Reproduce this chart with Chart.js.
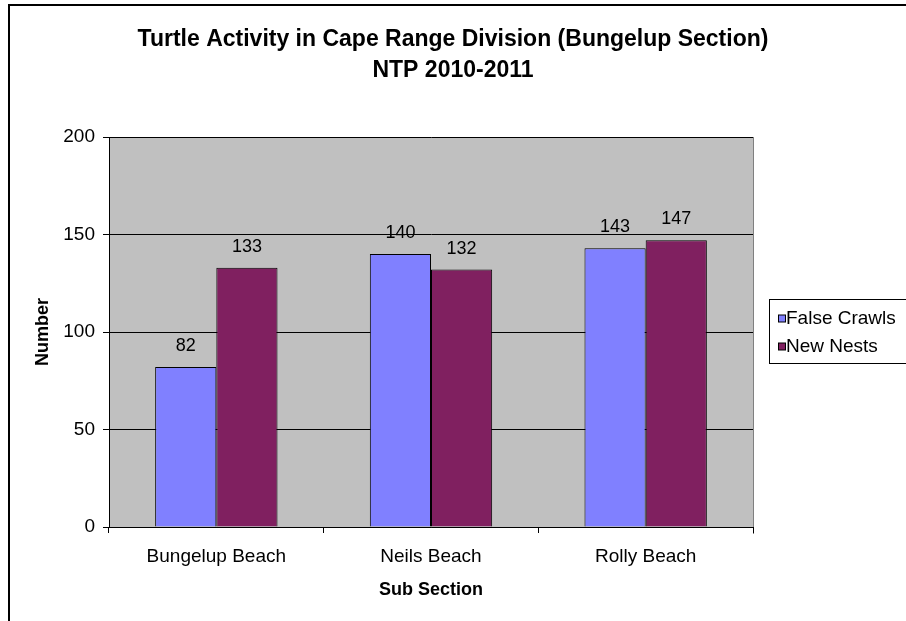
<!DOCTYPE html>
<html>
<head>
<meta charset="utf-8">
<script src="https://cdn.jsdelivr.net/npm/chart.js@4.4.1/dist/chart.umd.min.js"></script>
<style>
    html, body { margin: 0; padding: 0; background: #fff; }
    #wrap { width: 906px; height: 621px; position: relative; }
</style>
</head>
<body>
<div id="wrap"><canvas id="turtleChart" width="906" height="621"></canvas></div>
<script>
// 数据
const subSections = ['Bungelup Beach', 'Neils Beach', 'Rolly Beach'];
const falseCrawls = [82, 140, 143];
const newNests = [133, 132, 147];
const seriesNames = ['False Crawls', 'New Nests'];
const titleLines = ['Turtle Activity in Cape Range Division (Bungelup Section)', 'NTP 2010-2011'];
const yTicks = [0, 50, 100, 150, 200];

const FONT = 'Arial, "Liberation Sans", sans-serif';

// 外框、标题、图例、数值标签
const decorPlugin = {
    id: 'decor',
    beforeDraw(chart) {
        const { ctx, chartArea } = chart;
        ctx.save();
        ctx.fillStyle = '#ffffff';
        ctx.fillRect(0, 0, chart.width, chart.height);
        // 绘图区背景
        ctx.fillStyle = '#c0c0c0';
        ctx.fillRect(chartArea.left, chartArea.top, chartArea.right - chartArea.left, chartArea.bottom - chartArea.top);
        ctx.strokeStyle = '#808080';
        ctx.lineWidth = 1;
        ctx.beginPath();
        ctx.moveTo(chartArea.right + 0.5, chartArea.top);
        ctx.lineTo(chartArea.right + 0.5, chartArea.bottom + 7);
        ctx.stroke();
        ctx.restore();
    },
    afterDatasetsDraw(chart) {
        const { ctx } = chart;
        ctx.save();
        ctx.font = '18px ' + FONT;
        ctx.fillStyle = '#000';
        ctx.textAlign = 'center';
        ctx.textBaseline = 'middle';
        chart.data.datasets.forEach((ds, i) => {
            chart.getDatasetMeta(i).data.forEach((bar, j) => {
                ctx.fillText(String(ds.data[j]), bar.x, bar.y - 21);
            });
        });
        ctx.restore();
    },
    afterDraw(chart) {
        const { ctx } = chart;
        ctx.save();
        // 外框 (右侧和底部超出画布)
        ctx.strokeStyle = '#000';
        ctx.lineWidth = 2;
        ctx.strokeRect(9, 5, 1000, 1000);

        // 标题
        ctx.fillStyle = '#000';
        ctx.font = 'bold 23px ' + FONT;
        ctx.textAlign = 'center';
        ctx.textBaseline = 'middle';
        ctx.fillText(titleLines[0], 453, 40);
        ctx.fillText(titleLines[1], 453, 71);

        // 图例
        ctx.fillStyle = '#fff';
        ctx.fillRect(769, 299, 200, 64);
        ctx.strokeStyle = '#000';
        ctx.lineWidth = 1;
        ctx.strokeRect(769.5, 299.5, 200, 64);
        ctx.font = '19px ' + FONT;
        ctx.textAlign = 'left';
        chart.data.datasets.forEach((ds, i) => {
            const y = 318 + i * 28;
            ctx.fillStyle = ds.backgroundColor;
            ctx.fillRect(778, y - 3, 7, 7);
            ctx.strokeRect(778.5, y - 3, 7, 7);
            ctx.fillStyle = '#000';
            ctx.fillText(ds.label, 786, y + 1);
        });
        ctx.restore();
    }
};

const ctx = document.getElementById('turtleChart').getContext('2d');
const turtleChart = new Chart(ctx, {
    type: 'bar',
    data: {
        labels: subSections,
        datasets: [
            {
                label: seriesNames[0],
                data: falseCrawls,
                backgroundColor: '#8080ff',
                borderColor: '#000',
                borderWidth: 1,
                categoryPercentage: 0.57,
                barPercentage: 1.0
            },
            {
                label: seriesNames[1],
                data: newNests,
                backgroundColor: '#802060',
                borderColor: '#000',
                borderWidth: 1,
                categoryPercentage: 0.57,
                barPercentage: 1.0
            }
        ]
    },
    options: {
        responsive: false,
        animation: false,
        layout: {
            padding: { left: 0, right: 153, top: 137, bottom: 0 }
        },
        plugins: {
            legend: { display: false },
            title: { display: false },
            tooltip: { enabled: false }
        },
        scales: {
            x: {
                grid: {
                    display: true,
                    drawOnChartArea: false,
                    drawTicks: true,
                    tickLength: 6,
                    color: '#000',
                    offset: true
                },
                border: { display: true, color: '#000', width: 1 },
                ticks: {
                    color: '#000',
                    font: { size: 19, family: FONT },
                    padding: 12,
                    maxRotation: 0
                },
                title: {
                    display: true,
                    text: 'Sub Section',
                    color: '#000',
                    font: { size: 18, weight: 'bold', family: FONT },
                    padding: { top: 0, bottom: 20 }
                },
                afterFit(scale) { scale.height = 94; }
            },
            y: {
                min: 0,
                max: 200,
                afterBuildTicks(scale) {
                    scale.ticks = yTicks.map(v => ({ value: v }));
                },
                grid: {
                    color: '#000',
                    tickLength: 6,
                    drawTicks: true
                },
                border: { display: true, color: '#000', width: 1 },
                ticks: {
                    color: '#000',
                    font: { size: 19, family: FONT },
                    padding: 8
                },
                title: {
                    display: true,
                    text: 'Number',
                    color: '#000',
                    font: { size: 18, weight: 'bold', family: FONT },
                    padding: { top: 32, bottom: 0 }
                },
                afterFit(scale) { scale.width = 109; }
            }
        }
    },
    plugins: [decorPlugin]
});
</script>
</body>
</html>
